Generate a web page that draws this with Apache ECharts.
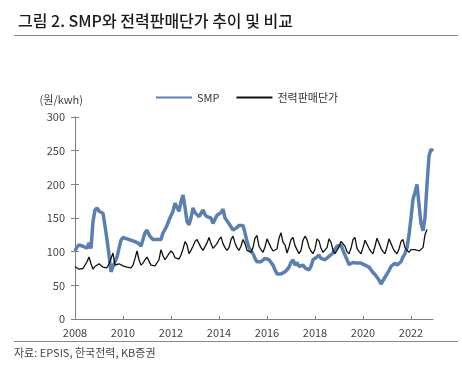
<!DOCTYPE html>
<html><head><meta charset="utf-8">
<script src="https://cdn.jsdelivr.net/npm/echarts@6/dist/echarts.min.js"></script>
<style>html,body{margin:0;padding:0;background:#fff}#c{width:462px;height:375px}</style>
</head><body><div id="c"></div>
<script>
const years = [2008,2009,2010,2011,2012,2013,2014,2015,2016,2017,2018,2019,2020,2021,2022];
const tickYears = ['2008','2010','2012','2014','2016','2018','2020','2022'];
const yTicks = [0,50,100,150,200,250,300];
// SMP (원/kWh), monthly from 2008-01
const smp = [
101,107,110,108,108,108,105,113,105,145,162,165,
160,158,157,138,118,95,70,78,85,92,105,117,
121,120,119,117,117,116,115,117,112,108,108,128,
132,125,121,118,118,118,117,118,128,133,139,147,
148,160,172,166,160,174,184,166,145,140,150,165,
158,155,152,157,162,155,152,150,150,142,148,154,
152,158,163,150,146,145,137,132,132,136,139,140,
139,128,115,106,101,97,90,85,86,85,85,90,
89,88,87,80,73,67,65,67,68,70,73,77,
84,88,80,84,78,76,80,76,74,73,78,88,
90,92,95,90,90,88,90,93,95,98,104,108,
108,110,102,104,88,81,82,84,84,83,82,83,
82,80,80,77,75,69,66,62,58,52,50,62,
67,72,78,76,83,80,82,85,92,97,106,125,
150,178,188,200,170,142,131,150,200,242,252,249
];
// 전력판매단가 (원/kWh), monthly from 2008-01
const salePrice = [
78,78,74,74,75,76,85,92,82,74,78,80,
82,80,77,76,76,82,90,98,80,80,82,80,
79,78,77,76,76,80,90,101,88,80,83,88,
92,86,80,79,79,80,88,103,94,88,90,97,
101,98,91,90,89,95,104,115,110,97,102,108,
115,118,112,106,102,104,113,121,112,105,107,112,
118,122,112,106,102,106,118,123,113,106,102,108,
118,112,102,100,99,106,120,124,108,103,99,107,
119,120,106,101,99,104,120,128,114,110,98,107,
118,121,109,103,97,102,117,123,118,107,101,97,
104,119,116,105,99,97,106,119,114,102,97,97,
107,115,112,108,100,97,105,118,121,105,100,97,
106,117,116,105,100,97,108,120,121,105,100,97,
107,119,117,105,100,97,104,115,118,106,102,99,
103,105,103,101,101,102,106,125,133
];
const months = [];
years.forEach(y => { for (let m = 1; m <= 12; m++) months.push(y + '-' + (m < 10 ? '0' + m : m)); });

const FONT = "'Noto Sans CJK KR', 'Noto Sans', sans-serif";
const chart = echarts.init(document.getElementById('c'), null, {renderer: 'canvas'});
const axisColor = '#7f7f7f';
const yAxisBase = {
  type: 'value', min: 0, max: 300, interval: 50,
  axisLine: {show: true, lineStyle: {color: axisColor, width: 1}},
  splitLine: {show: false}
};
chart.setOption({
  animation: false,
  backgroundColor: '#fff',
  textStyle: {fontFamily: FONT},
  title: {
    text: '그림 2. SMP와 전력판매단가 추이 및 비교',
    left: 13, top: 8,
    textStyle: {fontFamily: FONT, fontSize: 16, fontWeight: 500, color: '#1a1a1a'}
  },
  legend: {
    left: 150, top: 87, itemWidth: 36, itemHeight: 10, itemGap: 16,
    itemStyle: {opacity: 0, borderWidth: 0},
    textStyle: {fontFamily: FONT, fontSize: 11, color: '#333'},
    data: ['SMP', '전력판매단가']
  },
  grid: {left: 75, right: 29, top: 117, bottom: 56, containLabel: false},
  xAxis: {
    type: 'category', data: months, boundaryGap: false,
    axisLine: {lineStyle: {color: axisColor, width: 1}},
    axisTick: {show: true, inside: true, length: 3, interval: 23, lineStyle: {color: axisColor}},
    axisLabel: {
      interval: 23, color: '#444', fontSize: 11, fontFamily: FONT, margin: 8,
      formatter: v => { const y = v.slice(0, 4); return tickYears.includes(y) ? y : ''; }
    }
  },
  yAxis: [
    Object.assign({}, yAxisBase, {
      name: '(원/kwh)', nameLocation: 'end', nameGap: 12,
      nameTextStyle: {fontFamily: FONT, fontSize: 11, color: '#444', align: 'right', padding: [0, -8, 0, 0]},
      axisTick: {show: true, length: 4, lineStyle: {color: axisColor}},
      axisLabel: {color: '#444', fontSize: 11, fontFamily: FONT, margin: 10,
        formatter: v => yTicks.includes(v) ? String(v) : ''}
    }),
    Object.assign({}, yAxisBase, {
      position: 'left',
      axisTick: {show: true, inside: true, length: 4, lineStyle: {color: axisColor}},
      axisLabel: {show: false}
    })
  ],
  series: [
    {name: 'SMP', type: 'line', data: smp, showSymbol: false, symbol: 'none',
     lineStyle: {color: '#5b80ad', width: 3.5}, itemStyle: {color: '#5b80ad'}, z: 2},
    {name: '전력판매단가', type: 'line', data: salePrice, showSymbol: false, symbol: 'none',
     lineStyle: {color: '#111', width: 1.3}, itemStyle: {color: '#111'}, z: 3}
  ],
  graphic: [
    {type: 'line', shape: {x1: 14, y1: 35.5, x2: 458, y2: 35.5}, style: {stroke: '#8a8a8a', lineWidth: 1}},
    {type: 'line', shape: {x1: 14, y1: 341.5, x2: 458, y2: 341.5}, style: {stroke: '#8a8a8a', lineWidth: 1}},
    {type: 'text', left: 14, top: 347, style: {text: '자료: EPSIS, 한국전력, KB증권', fontFamily: FONT, fontSize: 11, fill: '#444'}}
  ]
});
</script></body></html>
